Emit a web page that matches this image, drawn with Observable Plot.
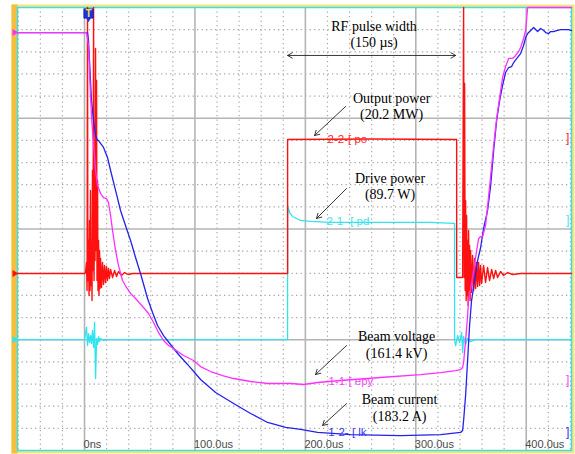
<!DOCTYPE html>
<html><head><meta charset="utf-8">
<script src="https://cdn.jsdelivr.net/npm/d3@7"></script>
<script src="https://cdn.jsdelivr.net/npm/@observablehq/plot@0.6"></script>
<style>
html,body{margin:0;padding:0;background:#fff;}
#chart{width:575px;height:454px;}
svg{display:block;}
</style></head><body><div id="chart"></div>
<script>
// time axis (µs) and screen level (0–400, 100 per major division)
const timeTicks = [0, 100, 200, 300, 400];
const timeTickLabels = ["0ns", "100.0us", "200.0us", "300.0us", "400.0us"];
const levelMajor = [100, 200, 300];

// Beam voltage (magenta)
const beamVoltage = [[-61,377.4],[1.8,377.4],[3.6,365.7],[4.5,343.1],[5.4,320.5],[6.3,302.5],[7.2,288.9],[8.2,275.4],[10.0,252.8],[11.8,239.3],[14.5,232.1],[17.2,228.4],[19.9,227.5],[21.7,223.9],[23.6,212.2],[25.4,198.6],[28.1,180.6],[30.8,167.0],[34.4,153.5],[38.0,147.2],[41.7,141.8],[46.2,137.2],[53.4,129.1],[58.0,123.7],[62.5,115.6],[67.0,106.5],[71.6,99.3],[76.1,94.8],[80.6,92.1],[89.7,85.8],[98.7,81.3],[105.1,75.8],[114.1,71.3],[125.0,67.7],[135.0,65.0],[150.4,62.3],[165.8,60.5],[186.6,60.5],[198.4,59.6],[211.1,61.4],[231.9,63.2],[268.1,65.9],[304.3,68.6],[322.5,70.4],[336.1,72.2],[340.6,73.1],[342.4,74.9],[343.3,79.5],[345.1,99.3],[346.9,121.9],[347.8,135.4],[350.5,150.8],[352.4,162.5],[355.1,180.6],[356.9,191.4],[358.7,193.2],[360.5,193.2],[363.2,203.2],[366.0,230.2],[368.7,257.3],[370.5,275.4],[373.2,299.8],[375.9,318.7],[378.6,336.8],[381.3,346.7],[384.1,354.0],[387.7,354.0],[390.4,356.7],[393.1,360.3],[394.9,363.9],[397.6,372.0],[399.5,379.2],[401.3,400],[441,400]];

// Beam current (blue)
const beamCurrent = [[-61,377.4],[2.7,377.4],[3.6,370.2],[4.5,352],[5.4,334],[6.3,316],[8.2,298],[10.0,284.4],[11.8,280],[12.7,279.9],[17.2,273.6],[20.8,264.6],[23.6,252.8],[28.1,234.8],[32.6,216.7],[37.1,203.2],[41.7,189.6],[46.2,174.3],[50.7,159.8],[57.1,137.2],[61.6,124.6],[66.1,112.9],[71.6,103.8],[77.9,95.7],[85.1,86.7],[93.3,77.7],[105.1,64.1],[118.7,52.4],[135.0,42.4],[150.4,33.4],[165.8,25.3],[182.1,20.8],[195.7,19.0],[211.1,16.3],[241.0,14.4],[286.2,13.5],[322.5,14.4],[340.6,16.3],[342.4,18.1],[343.3,27.1],[345.1,49.7],[346.9,81.3],[348.7,112.9],[350.5,135.4],[353.3,153.5],[356.0,171.6],[358.7,183.3],[361.4,200.5],[365.0,216.7],[367.8,239.3],[370.5,270.9],[373.2,298.0],[375.9,316.0],[378.6,329.6],[381.3,341.3],[384.1,345.8],[386.8,346.7],[388.6,350.3],[391.3,353.9],[394.9,358.4],[397.6,365.7],[399.5,372.9],[401.3,376.5],[404.0,379.2],[406.7,381.9],[408.5,380.1],[410.3,378.3],[413.0,381.0],[415.8,379.2],[417.6,377.4],[420.3,376.5],[422.1,378.3],[424.8,378.3],[427.5,379.2],[431.2,380.1],[435.7,380.1],[438.4,380.1],[441,379.2]];

// Output power (red)
const outputPower = [[-61,159.8],[0,159.8],[0.9,160.7],[1.8,169.8],[2.3,144.5],[2.7,400],[3.0,153.5],[3.6,189.6],[4.1,140.0],[4.5,207.7],[5.0,144.5],[5.4,234.8],[5.9,149.0],[6.3,180.6],[6.8,135.4],[7.2,252.8],[7.7,162.5],[8.2,400],[8.6,153.5],[9.1,225.7],[9.5,171.6],[10.0,363.0],[10.4,180.6],[10.9,334.1],[11.3,153.5],[11.8,243.8],[12.2,144.5],[12.7,189.6],[13.1,140.0],[13.6,180.6],[14.0,146.3],[14.5,173.4],[15.4,147.2],[16.3,169.8],[17.2,149.9],[18.1,167.0],[19.0,151.7],[19.9,166.1],[20.8,153.5],[21.7,164.3],[22.6,155.3],[23.6,163.4],[25.4,156.2],[27.2,162.5],[29.0,157.1],[30.8,161.6],[33.5,158.0],[36.2,160.7],[39.9,158.9],[43.5,159.8],[183.9,159.8],[183.9,280.8],[260,281.2],[336.1,280.8],[337.0,280.8],[337.0,156.2],[341.5,156.2],[342.4,156.2],[343.3,400],[343.8,156.2],[344.2,331.4],[344.7,144.5],[345.1,225.7],[345.6,135.4],[346.0,212.2],[346.5,140.0],[346.9,189.6],[347.4,130.9],[347.8,198.6],[348.3,144.5],[348.7,185.1],[349.2,135.4],[349.6,180.6],[350.5,142.7],[351.4,176.1],[352.4,144.5],[353.3,173.4],[354.2,146.3],[355.1,169.8],[356.0,148.1],[356.9,169.8],[357.8,149.0],[358.7,167.0],[359.6,150.8],[361.4,167.0],[363.2,151.7],[365.0,165.2],[366.8,153.5],[368.7,163.4],[370.5,155.3],[372.3,162.5],[374.1,156.2],[376.8,161.6],[379.5,158.0],[383.2,160.7],[387.7,158.9],[394.9,159.8],[441,159.8]];

// Drive power (cyan)
const drivePower = [[-61,100.2],[0,100.2],[1.8,111.1],[2.7,94.8],[3.6,105.6],[4.5,97.5],[5.4,103.8],[6.3,96.6],[7.2,108.4],[8.2,93.0],[9.1,115.6],[10.0,65.0],[10.9,101.1],[11.8,95.7],[12.7,102.9],[13.6,98.4],[14.5,101.1],[17.2,99.3],[19.9,100.2],[183.9,100.2],[183.9,221.2],[185.7,214.9],[188.4,211.3],[192.0,209.5],[195.7,207.7],[204.7,206.8],[222.8,205.9],[268.1,205.9],[313.4,205.9],[334.2,205.0],[335.1,205.0],[335.1,99.3],[336.1,94.8],[337.9,103.8],[339.7,97.5],[341.5,106.5],[342.4,88.5],[343.3,102.9],[345.1,95.7],[346.9,101.1],[349.6,98.4],[354.2,100.2],[441,100.2]];

// draw order: drive, output, current, voltage
const traces = [drivePower, outputPower, beamCurrent, beamVoltage];
const traceColors = ["#2de4f0", "#ff1010", "#2222ee", "#ff30ff"];

// channel tags
const tagText = ["2-2-[ po", "2-1- [ pd", "1-1 [ epy", "1-2- [ lk"];
const tagT = [220.1, 219.2, 221.0, 220.7];
const tagV = [280.8, 206.8, 62.8, 16.8];
const tagColor = ["#ff2a2a", "#3ee6f2", "#ff44ff", "#3535f5"];
const bracketV = [281.7, 207.7, 63.2, 16.5];
const bracketT = 437.5;

// annotations
const annoText = ["RF pulse width\n(150 µs)", "Output power\n(20.2 MW)", "Drive power\n(89.7 W)", "Beam voltage\n(161.4 kV)", "Beam current\n(183.2 A)"];
const annoT = [262.2, 278.1, 276.7, 282.6, 285.3];
const annoV = [390.0, 325.0, 252.7, 109.6, 52.8];
const arrowT1 = [236.4, 237.3, 237.3, 237.3, 260.0, 260.0];
const arrowV1 = [310.6, 236.6, 94.8, 42.4, 356.7, 356.7];
const arrowT2 = [208.3, 210.1, 209.2, 215.6, 183.9, 336.1];
const arrowV2 = [284.4, 209.5, 68.6, 22.6, 356.7, 356.7];

// channel markers on the left edge
const markerV = [377.4, 159.8, 100.2];
const markerColor = ["#ff30ff", "#ff1010", "#2de4f0"];
const triggerT = 3.6;

const minorX = d3.range(-60, 441, 20).filter(d => d % 100 !== 0);
const minorY = d3.range(20, 400, 20).filter(d => d % 100 !== 0);

const idx = arr => arr.map((_, i) => i);

const chart = Plot.plot({
  width: 575, height: 454,
  marginLeft: 17, marginRight: 4, marginTop: 7, marginBottom: 4,
  x: {domain: [-60.7, 441], axis: null},
  y: {domain: [0, 400], axis: null},
  style: {background: "white"},
  marks: [
    Plot.frame({fill: "#f4e47e", insetLeft: -6, insetTop: -3, insetRight: -3, insetBottom: -3}),
    Plot.frame({fill: "#f5bf3e", insetLeft: -6, insetRight: 554, insetTop: -3, insetBottom: -3}),
    Plot.frame({fill: "white"}),
    Plot.ruleX(minorX, {stroke: "#a8a8a8", strokeWidth: 1.2, strokeDasharray: "1.3,3.2"}),
    Plot.ruleY(minorY, {stroke: "#a8a8a8", strokeWidth: 1.2, strokeDasharray: "1.3,3.2"}),
    Plot.ruleX(timeTicks, {stroke: "#b4b4b4", strokeWidth: 1.6}),
    Plot.ruleY(levelMajor, {stroke: "#b4b4b4", strokeWidth: 1.6}),
    Plot.frame({stroke: "#3fdde6", strokeWidth: 1.5}),
    Plot.text(timeTicks, {x: d => d, text: (d, i) => timeTickLabels[i], frameAnchor: "bottom", lineAnchor: "bottom", dy: -3, dx: -1, textAnchor: "start", fontSize: 11, fill: "#4a4a4a", fontFamily: "Liberation Sans, Arial, sans-serif"}),
    ...traces.map((tr, k) => Plot.line(tr, {x: d => d[0], y: d => d[1], stroke: traceColors[k], strokeWidth: k === 1 ? 1.4 : 1.3})),
    Plot.text(idx(tagText), {x: i => tagT[i], y: i => tagV[i], text: i => tagText[i], fill: i => tagColor[i], textAnchor: "start", fontSize: 11.5, fontFamily: "Liberation Sans, Arial, sans-serif"}),
    Plot.text(idx(bracketV), {x: () => bracketT, y: i => bracketV[i], text: () => "]", fill: i => tagColor[i], fontSize: 12, fontFamily: "Liberation Sans, Arial, sans-serif"}),
    Plot.arrow(idx(arrowT1), {x1: i => arrowT1[i], y1: i => arrowV1[i], x2: i => arrowT2[i], y2: i => arrowV2[i], stroke: "#222", strokeWidth: 0.9, headLength: 9}),
    Plot.text(idx(annoText), {x: i => annoT[i], y: i => annoV[i], text: i => annoText[i], lineAnchor: "top", lineHeight: 1.2, fontSize: 14, fill: "black", fontFamily: "Liberation Serif, Times New Roman, serif"}),
    Plot.dot(markerV, {x: () => -63.4, y: d => d, symbol: "triangle", rotate: 90, r: 2.6, fill: (d, i) => markerColor[i], stroke: "none"}),
    Plot.dot([triggerT], {x: d => d, y: () => 394.6, symbol: "square", r: 5.2, fill: "#1a30f0", stroke: "#0a1aa0", strokeWidth: 0.8}),
    Plot.dot([triggerT], {x: d => d, y: () => 389.5, symbol: "triangle", rotate: 180, r: 2, fill: "#1a30f0", stroke: "none"}),
    Plot.text([triggerT], {x: d => d, y: () => 394.6, text: () => "T", fill: "#ffe600", fontSize: 10, fontWeight: "bold", fontFamily: "Liberation Sans, Arial, sans-serif"})
  ]
});
document.getElementById("chart").appendChild(chart);
</script></body></html>
